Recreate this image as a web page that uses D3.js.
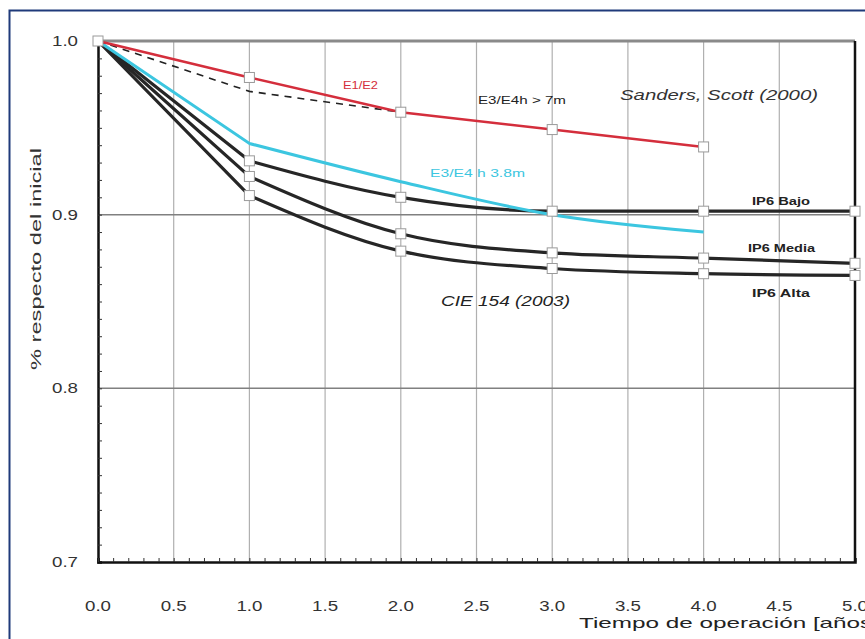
<!DOCTYPE html>
<html lang="es">
<head>
<meta charset="UTF-8">
<title>Depreciación</title>
<script src="https://d3js.org/d3.v7.min.js"></script>
<style>
  body { margin: 0; background: #fff; }
  svg { display: block; font-family: "Liberation Sans", Arial, sans-serif; }
</style>
</head>
<body>
<svg id="chart" width="865" height="639"></svg>
<script>
// tiempo en años
const years = [0, 1, 2, 3, 4, 5];
const e1e2 = [1.0, 0.979, 0.959, 0.949, 0.939];
const e3e4Alto = [1.0, 0.971, 0.959];
const e3e4Bajo = [1.0, 0.941, 0.919, 0.900, 0.890];
const ip6Bajo = [1.0, 0.931, 0.910, 0.902, 0.902, 0.902];
const ip6Media = [1.0, 0.922, 0.889, 0.878, 0.875, 0.872];
const ip6Alta = [1.0, 0.911, 0.879, 0.869, 0.866, 0.865];
const xTicks = [0, 0.5, 1, 1.5, 2, 2.5, 3, 3.5, 4, 4.5, 5];
const yTicks = [0.7, 0.8, 0.9, 1.0];

const svg = d3.select("#chart");

// marco azul
svg.append("rect")
  .attr("x", 9.5).attr("y", 10.5)
  .attr("width", 880).attr("height", 660)
  .attr("fill", "none")
  .attr("stroke", "#1f3a7a")
  .attr("stroke-width", 2);

const x = d3.scaleLinear().domain([0, 5]).range([98, 855]);
const y = d3.scaleLinear().domain([0.7, 1.0]).range([562, 41]);

// rejilla
svg.append("g")
  .selectAll("line")
  .data(xTicks.filter(d => d > 0 && d < 5))
  .join("line")
  .attr("x1", d => x(d)).attr("x2", d => x(d))
  .attr("y1", y(1.0)).attr("y2", y(0.7))
  .attr("stroke", "#b0b0b0")
  .attr("stroke-width", 1.2);

svg.append("g")
  .selectAll("line")
  .data([0.8, 0.9])
  .join("line")
  .attr("x1", x(0)).attr("x2", x(5))
  .attr("y1", d => y(d)).attr("y2", d => y(d))
  .attr("stroke", "#808080")
  .attr("stroke-width", 1.5);

// borde superior gris
svg.append("line")
  .attr("x1", x(0)).attr("x2", x(5))
  .attr("y1", y(1.0)).attr("y2", y(1.0))
  .attr("stroke", "#8a8a8a")
  .attr("stroke-width", 3);

// ejes con marcas menores
const yAxis = d3.axisRight(y)
  .tickValues(d3.range(70, 101).map(d => d / 100))
  .tickSize(4).tickFormat("");
svg.append("g")
  .attr("transform", `translate(${x(0)},0)`)
  .call(yAxis)
  .call(g => g.select(".domain").attr("stroke", "#111").attr("stroke-width", 2.5))
  .call(g => g.selectAll(".tick line").attr("stroke", "#333"));

const xAxis = d3.axisTop(x)
  .tickValues(d3.range(0, 51).map(d => d / 10))
  .tickSize(4).tickFormat("");
svg.append("g")
  .attr("transform", `translate(0,${y(0.7)})`)
  .call(xAxis)
  .call(g => g.select(".domain").attr("stroke", "#111").attr("stroke-width", 2.5))
  .call(g => g.selectAll(".tick line").attr("stroke", "#333"));

svg.append("line")
  .attr("x1", x(5)).attr("x2", x(5))
  .attr("y1", y(1.0)).attr("y2", y(0.7))
  .attr("stroke", "#111")
  .attr("stroke-width", 2.5);

// etiquetas de marcas
svg.append("g")
  .selectAll("text")
  .data(xTicks)
  .join("text")
  .attr("x", d => x(d))
  .attr("y", 611)
  .attr("text-anchor", "middle")
  .attr("font-size", 14)
  .attr("textLength", 26)
  .attr("lengthAdjust", "spacingAndGlyphs")
  .attr("fill", "#333")
  .text(d => d.toFixed(1));

svg.append("g")
  .selectAll("text")
  .data(yTicks)
  .join("text")
  .attr("x", 52)
  .attr("y", d => y(d) + 5)
  .attr("font-size", 14)
  .attr("textLength", 26)
  .attr("lengthAdjust", "spacingAndGlyphs")
  .attr("fill", "#333")
  .text(d => d.toFixed(1));

// títulos de ejes
svg.append("text")
  .attr("transform", "translate(41,370) rotate(-90)")
  .attr("font-size", 15)
  .attr("textLength", 222)
  .attr("lengthAdjust", "spacingAndGlyphs")
  .attr("fill", "#333")
  .text("% respecto del inicial");

svg.append("text")
  .attr("x", 579)
  .attr("y", 628)
  .attr("font-size", 15)
  .attr("textLength", 300)
  .attr("lengthAdjust", "spacingAndGlyphs")
  .attr("fill", "#222")
  .text("Tiempo de operación [años]");

// curvas: tramo recto hasta el año 1, luego suavizado
const smooth = d3.line()
  .x(d => x(d[0]))
  .y(d => y(d[1]))
  .curve(d3.curveMonotoneX);
function kinked(s) {
  const pts = s.map((v, i) => [years[i], v]);
  return `M${x(pts[0][0])},${y(pts[0][1])}L` + smooth(pts.slice(1)).slice(1);
}
const straight = d3.line()
  .x((d, i) => x(years[i]))
  .y(d => y(d));

[ip6Bajo, ip6Media, ip6Alta].forEach(s => {
  svg.append("path")
    .attr("d", kinked(s))
    .attr("fill", "none")
    .attr("stroke", "#262626")
    .attr("stroke-width", 3.2);
});

svg.append("path")
  .attr("d", kinked(e3e4Bajo))
  .attr("fill", "none")
  .attr("stroke", "#3cc6e0")
  .attr("stroke-width", 3);

svg.append("path")
  .attr("d", straight(e3e4Alto))
  .attr("fill", "none")
  .attr("stroke", "#222")
  .attr("stroke-width", 1.6)
  .attr("stroke-dasharray", "7,6");

svg.append("path")
  .attr("d", straight(e1e2))
  .attr("fill", "none")
  .attr("stroke", "#d42e3c")
  .attr("stroke-width", 2.5);

// marcadores cuadrados
const marks = [];
[e1e2, ip6Bajo, ip6Media, ip6Alta].forEach(s => {
  s.forEach((v, i) => { if (i > 0) marks.push([years[i], v]); });
});
marks.push([years[0], 1.0]);
svg.append("g")
  .selectAll("rect")
  .data(marks)
  .join("rect")
  .attr("x", d => x(d[0]) - 5)
  .attr("y", d => y(d[1]) - 5)
  .attr("width", 10).attr("height", 10)
  .attr("fill", "#fff")
  .attr("stroke", "#9a9a9a")
  .attr("stroke-width", 1);

// textos
const labels = [
  { t: "E1/E2", x: 343, y: 89, c: "#d42e3c", s: 11, w: "normal", st: "normal", len: 35 },
  { t: "E3/E4h > 7m", x: 478, y: 104, c: "#222", s: 11, w: "normal", st: "normal", len: 88 },
  { t: "Sanders, Scott (2000)", x: 620, y: 100, c: "#333", s: 14, w: "normal", st: "italic", len: 198 },
  { t: "E3/E4 h 3.8m", x: 430, y: 177, c: "#3cc6e0", s: 11, w: "normal", st: "normal", len: 95 },
  { t: "IP6 Bajo", x: 752, y: 205, c: "#222", s: 11, w: "bold", st: "normal", len: 58 },
  { t: "IP6 Media", x: 748, y: 252, c: "#222", s: 11, w: "bold", st: "normal", len: 67 },
  { t: "IP6 Alta", x: 752, y: 297, c: "#222", s: 11, w: "bold", st: "normal", len: 58 },
  { t: "CIE 154 (2003)", x: 441, y: 306, c: "#222", s: 14, w: "normal", st: "italic", len: 129 }
];
svg.append("g")
  .selectAll("text")
  .data(labels)
  .join("text")
  .attr("x", d => d.x).attr("y", d => d.y)
  .attr("fill", d => d.c)
  .attr("font-size", d => d.s)
  .attr("font-weight", d => d.w)
  .attr("font-style", d => d.st)
  .attr("textLength", d => d.len)
  .attr("lengthAdjust", "spacingAndGlyphs")
  .text(d => d.t);
</script>
</body>
</html>
